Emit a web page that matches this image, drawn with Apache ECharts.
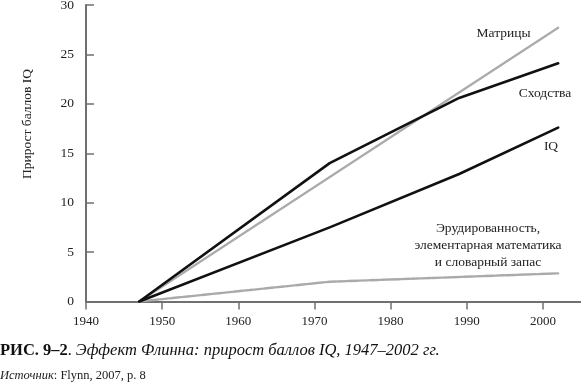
<!DOCTYPE html>
<html><head><meta charset="utf-8">
<script src="https://cdn.jsdelivr.net/npm/echarts@6/dist/echarts.min.js"></script>
<style>html,body{margin:0;padding:0;background:#fff}#c{width:581px;height:385px}</style>
</head><body><div id="c"></div>
<script>
// ---- data ----
const xTickYears = [1940, 1950, 1960, 1970, 1980, 1990, 2000];
const matricesData = [[1947, 0], [2002, 27.7]];
const similaritiesData = [[1947, 0], [1972, 14.0], [1989, 20.6], [2002, 24.1]];
const iqData = [[1947, 0], [1972, 7.5], [1989, 12.9], [2002, 17.6]];
const eruditionData = [[1947, 0], [1972, 2.0], [2002, 2.85]];
const seriesNames = ['Матрицы', 'Сходства', 'IQ', 'Эрудированность, элементарная математика и словарный запас'];
const eruditionLabelLines = ['Эрудированность,', 'элементарная математика', 'и словарный запас'];
const yAxisTitle = 'Прирост баллов IQ';
const captionBold = 'РИС. 9–2';
const captionItalic = 'Эффект Флинна: прирост баллов IQ, 1947–2002 гг.';
const sourceLabel = 'Источник';
const sourceText = ': Flynn, 2007, p. 8';

const SERIF = 'Liberation Serif';
const axisColor = '#707070';
const chart = echarts.init(document.getElementById('c'), null, {renderer: 'canvas'});

function lineSeries(name, data, color, width, type) {
  return {
    name, type: 'line', data, symbol: 'none', silent: true,
    lineStyle: {color, width, type: type || 'solid', cap: 'round', join: 'round'}
  };
}

const txt = (text, x, y, extra) => Object.assign({
  type: 'text', x, y, silent: true,
  style: {text, fill: '#222', fontFamily: SERIF, fontSize: 13.5, align: 'center', verticalAlign: 'middle'}
}, extra || {});

chart.setOption({
  animation: false,
  grid: {left: 86, top: 5, right: 0, bottom: 83.5, outerBoundsMode: 'none', containLabel: false},
  xAxis: {
    type: 'value', min: 1940, max: 2005, interval: 10,
    axisLine: {show: true, lineStyle: {color: axisColor, width: 2}},
    axisTick: {show: true, length: 8, inside: false, customValues: xTickYears, lineStyle: {color: axisColor, width: 1.5}},
    axisLabel: {customValues: xTickYears, margin: 14, color: '#222', fontFamily: SERIF, fontSize: 13,
      formatter: v => String(v)},
    splitLine: {show: false}
  },
  yAxis: {
    type: 'value', min: 0, max: 30, interval: 5,
    axisLine: {show: true, lineStyle: {color: axisColor, width: 2}},
    axisTick: {show: true, inside: true, length: 8, lineStyle: {color: axisColor, width: 1.5}},
    axisLabel: {margin: 12, color: '#222', fontFamily: SERIF, fontSize: 13.5},
    splitLine: {show: false}
  },
  series: [
    lineSeries(seriesNames[0], matricesData, '#ababab', 2.2),
    lineSeries(seriesNames[3], eruditionData, '#aaaaaa', 2.4, [9, 1.5]),
    lineSeries(seriesNames[2], iqData, '#111111', 2.6),
    lineSeries(seriesNames[1], similaritiesData, '#111111', 2.6)
  ],
  graphic: [
    txt(yAxisTitle, 27, 124, {rotation: Math.PI / 2}),
    txt(seriesNames[0], 503.5, 33),
    txt(seriesNames[1], 545, 93),
    txt(seriesNames[2], 551, 146),
    txt(eruditionLabelLines[0], 488, 228),
    txt(eruditionLabelLines[1], 488, 245.5),
    txt(eruditionLabelLines[2], 488, 262),
    {type: 'text', x: 0, y: 351, silent: true, style: {
      text: '{b|' + captionBold + '}{r|. }{i|' + captionItalic + '}',
      verticalAlign: 'middle', align: 'left',
      rich: {
        b: {fontFamily: SERIF, fontWeight: 'bold', fontSize: 16.5, fill: '#111'},
        r: {fontFamily: SERIF, fontSize: 16, fill: '#111'},
        i: {fontFamily: SERIF, fontStyle: 'italic', fontSize: 16.5, fill: '#111'}
      }
    }},
    {type: 'text', x: 0, y: 376, silent: true, style: {
      text: '{i|' + sourceLabel + '}{n|' + sourceText + '}',
      verticalAlign: 'middle', align: 'left',
      rich: {
        i: {fontFamily: SERIF, fontStyle: 'italic', fontSize: 12.5, fill: '#222'},
        n: {fontFamily: SERIF, fontSize: 12.5, fill: '#222'}
      }
    }}
  ]
});
</script></body></html>
